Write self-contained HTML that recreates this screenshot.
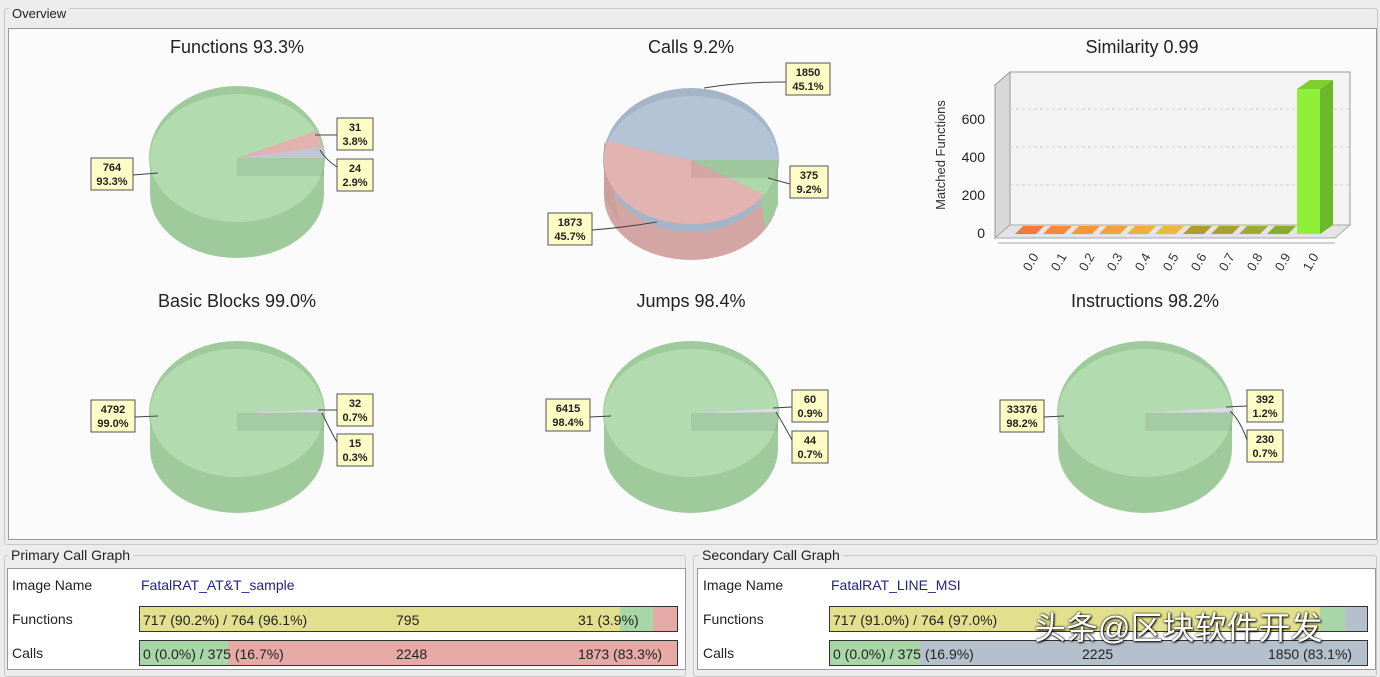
<!DOCTYPE html>
<html><head><meta charset="utf-8"><style>
body{margin:0;width:1380px;height:664px;overflow:hidden;background:#ececec;font-family:"Liberation Sans",sans-serif;position:relative}
.abs{position:absolute}
.grp{position:absolute;border:1px solid #c8c8c8;border-radius:3px}
.lg{position:absolute;background:#ececec;font-size:14px;color:#222;padding:0 3px}
.bar{position:absolute;height:24px;border:1.5px solid #333;display:flex;font-size:14px;color:#222;overflow:hidden}
.bar div{height:100%}
.bt{position:absolute;top:4px;font-size:14px;color:#222}
.lbl{font-size:14px;color:#222}
</style></head><body>
<div class="grp" style="left:4px;top:8px;width:1372px;height:535px"></div>
<div class="lg" style="left:9px;top:6px;font-size:13px">Overview</div>
<div class="abs" style="left:8px;top:28px;width:1367px;height:510px;background:#fbfbfb;border:1px solid #999"></div>
<svg id="s" class="abs" style="left:0;top:0" width="1380" height="540"></svg>

<div class="grp" style="left:4px;top:555px;width:680px;height:120px"></div>
<div class="lg" style="left:8px;top:547px">Primary Call Graph</div>
<div class="abs" style="left:7px;top:568px;width:677px;height:100px;background:#fff;border:1px solid #999"></div>
<div class="abs lbl" style="left:12px;top:577px">Image Name</div>
<div class="abs" style="left:141px;top:577px;font-size:14px;color:#22228a">FatalRAT_AT&amp;T_sample</div>
<div class="abs lbl" style="left:12px;top:611px">Functions</div>
<div class="abs lbl" style="left:12px;top:645px">Calls</div>
<div class="bar" style="left:139px;top:606px;width:537px"><div style="width:480px;background:#e2e08c"></div><div style="width:33px;background:#a9d6a6"></div><div style="flex:1;background:#e6aaa6"></div></div>
<div class="bt" style="left:143px;top:612px">717 (90.2%) / 764 (96.1%)</div><div class="bt" style="left:396px;top:612px">795</div><div class="bt" style="left:578px;top:612px">31 (3.9%)</div>
<div class="bar" style="left:139px;top:640px;width:537px"><div style="width:88px;background:#a9d6a6"></div><div style="flex:1;background:#e6aaa6"></div></div>
<div class="bt" style="left:143px;top:646px">0 (0.0%) / 375 (16.7%)</div><div class="bt" style="left:396px;top:646px">2248</div><div class="bt" style="left:578px;top:646px">1873 (83.3%)</div>

<div class="grp" style="left:693px;top:555px;width:682px;height:120px"></div>
<div class="lg" style="left:699px;top:547px">Secondary Call Graph</div>
<div class="abs" style="left:697px;top:568px;width:677px;height:100px;background:#fff;border:1px solid #999"></div>
<div class="abs lbl" style="left:703px;top:577px">Image Name</div>
<div class="abs" style="left:831px;top:577px;font-size:14px;color:#22228a">FatalRAT_LINE_MSI</div>
<div class="abs lbl" style="left:703px;top:611px">Functions</div>
<div class="abs lbl" style="left:703px;top:645px">Calls</div>
<div class="bar" style="left:829px;top:606px;width:537px"><div style="width:490px;background:#e2e08c"></div><div style="width:25px;background:#a9d6a6"></div><div style="flex:1;background:#b5c0cd"></div></div>
<div class="bt" style="left:833px;top:612px">717 (91.0%) / 764 (97.0%)</div>
<div class="bar" style="left:829px;top:640px;width:537px"><div style="width:90px;background:#a9d6a6"></div><div style="flex:1;background:#b5c0cd"></div></div>
<div class="bt" style="left:833px;top:646px">0 (0.0%) / 375 (16.9%)</div><div class="bt" style="left:1082px;top:646px">2225</div><div class="bt" style="left:1268px;top:646px">1850 (83.1%)</div>
<div class="abs" style="left:1034px;top:603px;font-size:32px;color:#fff;font-family:'Liberation Sans','Noto Sans CJK SC',sans-serif;text-shadow:0 0 2px #000,1px 1px 2px #000">头条@区块软件开发</div>

<script>
var s=document.getElementById('s'),h='';
function t(x,y,str,sz,anc,extra){h+='<text x="'+x+'" y="'+y+'" font-size="'+sz+'" text-anchor="'+(anc||'middle')+'" fill="#222" '+(extra||'')+'>'+str+'</text>';}
function box(x,y,a,b,w){h+='<rect x="'+x+'" y="'+y+'" width="'+w+'" height="32" fill="#fdfcc4" stroke="#555"/>';t(x+w/2,y+13,a,11,'middle','font-weight="bold"');t(x+w/2,y+27,b,11,'middle','font-weight="bold"');}
function pt(cx,cy,rx,ry,a){return [cx+rx*Math.cos(a*Math.PI/180),cy+ry*Math.sin(a*Math.PI/180)];}
function wedge(cx,cy,rx,ry,a0,a1,fill){var p=pt(cx,cy,rx,ry,a0),q=pt(cx,cy,rx,ry,a1);h+='<path d="M'+cx+' '+cy+' L'+p[0]+' '+p[1]+' A'+rx+' '+ry+' 0 '+((a1-a0)>180?1:0)+' 1 '+q[0]+' '+q[1]+' Z" fill="'+fill+'"/>';}
function pie(cx,cy,slices,sides){var rx=87,ry=64,d=36;
 h+='<ellipse cx="'+cx+'" cy="'+(cy+d)+'" rx="'+rx+'" ry="'+ry+'" fill="'+sides[0]+'"/>';
 h+='<rect x="'+(cx-rx)+'" y="'+cy+'" width="'+(2*rx)+'" height="'+d+'" fill="'+sides[0]+'"/>';
 h+='<ellipse cx="'+cx+'" cy="'+cy+'" rx="'+(rx+1)+'" ry="'+(ry+8)+'" fill="'+(sides[2]||sides[0])+'"/>';
 if(sides[1])h+=sides[1];
 slices.forEach(function(s){wedge(cx,cy,rx,ry,s[0],s[1],s[2]);});
 h+='<rect x="'+cx+'" y="'+cy+'" width="'+rx+'" height="18" fill="#000" opacity="0.07"/>';
}
var G='#b2dbb0',GD='#9fcb9c';
t(237,53,'Functions 93.3%',18);t(691,53,'Calls 9.2%',18);t(1142,53,'Similarity 0.99',18);
t(237,307,'Basic Blocks 99.0%',18);t(691,307,'Jumps 98.4%',18);t(1145,307,'Instructions 98.2%',18);
pie(237,158,[[0,335,G],[335,350,'#e2b2ae'],[350,360,'#c1c6d0']],[GD]);
box(91,158,'764','93.3%',42);h+='<path d="M133 175 L158 173" stroke="#444" fill="none"/>';
box(337,118,'31','3.8%',36);h+='<path d="M337 135 L315 135" stroke="#444" fill="none"/>';
box(337,159,'24','2.9%',36);h+='<path d="M337 167 Q326 160 320 150" stroke="#444" fill="none"/>';
pie(691,160,[[0,33,'#acd8aa'],[33,197,'#e2b3b0'],[197,360,'#b4c3d5']],['#d4a6a3','<path d="M760 195 L778 170 L778 205 L765 230 Z" fill="#9fcb9c"/><path d="M604 140 L604 196 L620 225 L610 170Z" fill="#c9a09c"/>','#a5b5c8']);
box(786,63,'1850','45.1%',44);h+='<path d="M786 82 Q740 82 704 88" stroke="#444" fill="none"/>';
box(790,166,'375','9.2%',38);h+='<path d="M790 184 L768 178" stroke="#444" fill="none"/>';
box(548,213,'1873','45.7%',44);h+='<path d="M592 230 Q620 228 657 222" stroke="#444" fill="none"/>';
pie(237,413,[[0,357,G],[357,359,'#dcdcdc'],[359,360,'#c1c6d0']],[GD]);
box(91,400,'4792','99.0%',44);h+='<path d="M135 417 L158 416" stroke="#444" fill="none"/>';
box(337,394,'32','0.7%',36);h+='<path d="M337 410 L318 410" stroke="#444" fill="none"/>';
box(337,434,'15','0.3%',36);h+='<path d="M337 442 Q330 430 322 413" stroke="#444" fill="none"/>';
pie(691,413,[[0,356,G],[356,359,'#dcdcdc'],[359,360,'#c1c6d0']],[GD]);
box(546,399,'6415','98.4%',44);h+='<path d="M590 417 L611 416" stroke="#444" fill="none"/>';
box(792,390,'60','0.9%',36);h+='<path d="M792 407 L773 408" stroke="#444" fill="none"/>';
box(792,431,'44','0.7%',36);h+='<path d="M792 440 Q784 425 776 412" stroke="#444" fill="none"/>';
pie(1145,413,[[0,355,G],[355,359,'#dcdcdc'],[359,360,'#c1c6d0']],[GD]);
box(1000,400,'33376','98.2%',44);h+='<path d="M1044 417 L1064 416" stroke="#444" fill="none"/>';
box(1247,390,'392','1.2%',36);h+='<path d="M1247 406 L1226 407" stroke="#444" fill="none"/>';
box(1247,430,'230','0.7%',36);h+='<path d="M1247 440 Q1240 420 1230 411" stroke="#444" fill="none"/>';
h+='<path d="M995 85 L1010 72 L1010 225 L995 238Z" fill="#d8d8d8" stroke="#999"/>';
h+='<rect x="1010" y="72" width="340" height="153" fill="#f3f3f3" stroke="#999"/>';
h+='<path d="M995 238 L1010 225 L1350 225 L1335 238Z" fill="#e4e4e4" stroke="#aaa"/>';
[119,157,195].forEach(function(y){h+='<line x1="1010" y1="'+(y-10)+'" x2="1350" y2="'+(y-10)+'" stroke="#ccc" stroke-dasharray="3,3"/>';});
t(985,238,'0',14,'end');t(985,200,'200',14,'end');t(985,162,'400',14,'end');t(985,124,'600',14,'end');
h+='<text transform="translate(945,155) rotate(-90)" font-size="13" text-anchor="middle" fill="#333">Matched Functions</text>';
var cols=['#f47a3a','#f5893a','#f4963a','#f2a23a','#eeb03a','#e9bb3a','#b19a30','#a8a032','#9eaa34','#88ac30'];
for(var i=0;i<11;i++){var x=1015+28*i;
 if(i<10)h+='<path d="M'+x+' 234 L'+(x+8)+' 226 L'+(x+29)+' 226 L'+(x+21)+' 234Z" fill="'+cols[i]+'"/>';
 h+='<text transform="translate('+(x+15)+',272) rotate(-60)" font-size="13" fill="#333">'+(i==10?'1.0':'0.'+i)+'</text>';}
h+='<line x1="998" y1="243" x2="1335" y2="243" stroke="#aaa"/>';
h+='<path d="M1297 89 L1310 80 L1333 80 L1320 89Z" fill="#7ccf2e"/><path d="M1320 89 L1333 80 L1333 225 L1320 234Z" fill="#6bb828"/><rect x="1297" y="89" width="23" height="145" fill="#8ff03a"/>';
s.innerHTML=h;
</script>
</body></html>
